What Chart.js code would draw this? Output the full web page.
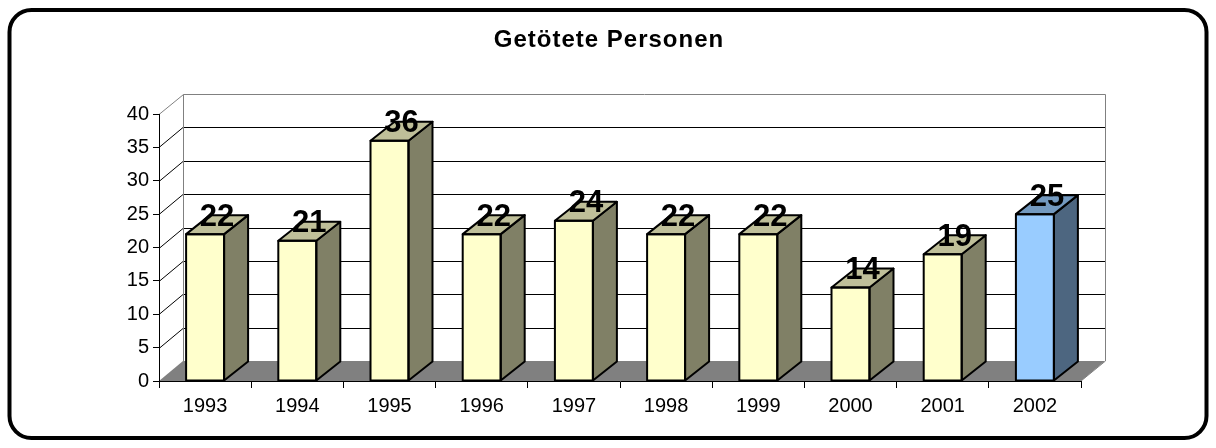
<!DOCTYPE html>
<html>
<head>
<meta charset="utf-8">
<script src="https://cdn.jsdelivr.net/npm/chart.js@4.4.1/dist/chart.umd.min.js"></script>
<style>
  html, body { margin: 0; padding: 0; background: #ffffff; }
  #wrap { width: 1216px; height: 448px; }
</style>
</head>
<body>
<div id="wrap"><canvas id="c" width="1216" height="448"></canvas></div>
<script>
// ---- data ----
const chartTitle = 'Getötete Personen';
const years = ['1993', '1994', '1995', '1996', '1997', '1998', '1999', '2000', '2001', '2002'];
const killed = [22, 21, 36, 22, 24, 22, 22, 14, 19, 25];
const yMin = 0;
const yMax = 40;
const yStep = 5;
const highlightYear = '2002';

// ---- styling ----
const FONT = "'Liberation Sans', Arial, sans-serif";
const DEPTH_X = 24, DEPTH_Y = 20;
const BAR_DX = 24, BAR_DY = 19;
const baseColor = '#FFFFCC';
const highlightColor = '#99CCFF';

function shade(hex, f) {
  const n = parseInt(hex.slice(1), 16);
  const r = Math.round(((n >> 16) & 255) * f);
  const g = Math.round(((n >> 8) & 255) * f);
  const b = Math.round((n & 255) * f);
  return `rgb(${r},${g},${b})`;
}
const frontColors = years.map(y => y === highlightYear ? highlightColor : baseColor);

const threeD = {
  id: 'threeD',
  beforeDraw(chart) {
    const ctx = chart.ctx;
    const ys = chart.scales.y, xs = chart.scales.x;
    const L = xs.left, R = xs.right;
    const y0 = ys.getPixelForValue(yMin), yTop = ys.getPixelForValue(yMax);
    ctx.save();
    // floor
    ctx.fillStyle = '#808080';
    ctx.beginPath();
    ctx.moveTo(L, y0);
    ctx.lineTo(R, y0);
    ctx.lineTo(R + DEPTH_X, y0 - DEPTH_Y);
    ctx.lineTo(L + DEPTH_X, y0 - DEPTH_Y);
    ctx.closePath();
    ctx.fill();
    // gridlines on back wall and left wall
    ctx.lineWidth = 1;
    for (let v = yMin + yStep; v < yMax; v += yStep) {
      const py = Math.round(ys.getPixelForValue(v)) + 0.5;
      ctx.strokeStyle = '#000000';
      ctx.beginPath();
      ctx.moveTo(L, py);
      ctx.lineTo(L + DEPTH_X, py - DEPTH_Y);
      ctx.lineTo(R + DEPTH_X, py - DEPTH_Y);
      ctx.stroke();
    }
    // wall outline (gray)
    const t = Math.round(yTop) + 0.5;
    ctx.strokeStyle = '#808080';
    ctx.beginPath();
    ctx.moveTo(L, t);
    ctx.lineTo(L + DEPTH_X + 0.5, t - DEPTH_Y);
    ctx.lineTo(R + DEPTH_X + 0.5, t - DEPTH_Y);
    ctx.lineTo(R + DEPTH_X + 0.5, y0 - DEPTH_Y);
    ctx.lineTo(R, y0);
    ctx.moveTo(L + DEPTH_X + 0.5, t - DEPTH_Y);
    ctx.lineTo(L + DEPTH_X + 0.5, y0 - DEPTH_Y);
    ctx.stroke();
    ctx.restore();
  },
  afterDatasetsDraw(chart) {
    const ctx = chart.ctx;
    const meta = chart.getDatasetMeta(0);
    ctx.save();
    ctx.lineWidth = 2;
    ctx.strokeStyle = '#000000';
    ctx.lineJoin = 'round';
    meta.data.forEach((bar, i) => {
      const p = bar.getProps(['x', 'y', 'base', 'width'], true);
      const x0 = p.x - p.width / 2, x1 = p.x + p.width / 2;
      const top = p.y, bottom = p.base;
      const col = frontColors[i];
      // side face
      ctx.fillStyle = shade(col, 0.5);
      ctx.beginPath();
      ctx.moveTo(x1, bottom);
      ctx.lineTo(x1, top);
      ctx.lineTo(x1 + BAR_DX, top - BAR_DY);
      ctx.lineTo(x1 + BAR_DX, bottom - BAR_DY);
      ctx.closePath();
      ctx.fill();
      ctx.stroke();
      // top face
      ctx.fillStyle = shade(col, 0.75);
      ctx.beginPath();
      ctx.moveTo(x0, top);
      ctx.lineTo(x1, top);
      ctx.lineTo(x1 + BAR_DX, top - BAR_DY);
      ctx.lineTo(x0 + BAR_DX, top - BAR_DY);
      ctx.closePath();
      ctx.fill();
      ctx.stroke();
      // front outline
      ctx.strokeRect(x0, top, x1 - x0, bottom - top);
    });
    // data labels
    ctx.fillStyle = '#000000';
    ctx.font = `bold 31px ${FONT}`;
    ctx.textAlign = 'center';
    ctx.textBaseline = 'middle';
    meta.data.forEach((bar, i) => {
      const p = bar.getProps(['x', 'y'], true);
      ctx.fillText(String(killed[i]), p.x + BAR_DX / 2, p.y - 17);
    });
    ctx.restore();
  },
  afterDraw(chart) {
    const ctx = chart.ctx;
    ctx.save();
    // title
    ctx.fillStyle = '#000000';
    ctx.font = `bold 24px ${FONT}`;
    ctx.textAlign = 'center';
    ctx.textBaseline = 'middle';
    try { ctx.letterSpacing = '1px'; } catch (e) {}
    ctx.fillText(chartTitle, 609, 40);
    try { ctx.letterSpacing = '0px'; } catch (e) {}
    // outer rounded frame
    ctx.lineWidth = 4;
    ctx.strokeStyle = '#000000';
    ctx.beginPath();
    ctx.roundRect(9.5, 10, 1197, 428, 22);
    ctx.stroke();
    ctx.restore();
  }
};

new Chart(document.getElementById('c'), {
  type: 'bar',
  data: {
    labels: years,
    datasets: [{
      data: killed,
      backgroundColor: frontColors,
      borderWidth: 0,
      categoryPercentage: 1,
      barPercentage: 0.412
    }]
  },
  options: {
    responsive: false,
    animation: false,
    devicePixelRatio: 1,
    layout: { padding: { left: 0, right: 135, top: 114, bottom: 27 } },
    plugins: {
      legend: { display: false },
      title: { display: false },
      tooltip: { enabled: false }
    },
    scales: {
      y: {
        min: yMin,
        max: yMax,
        ticks: { stepSize: yStep, color: '#000000', padding: 4, font: { family: FONT, size: 20 } },
        grid: { drawOnChartArea: false, drawTicks: true, tickLength: 6, color: '#000000' },
        border: { display: true, color: '#000000', width: 1 },
        afterFit(scale) { scale.width = 159; }
      },
      x: {
        ticks: { color: '#000000', padding: 6, font: { family: FONT, size: 20 } },
        grid: { drawOnChartArea: false, drawTicks: true, tickLength: 7, color: '#000000', offset: true },
        border: { display: true, color: '#000000', width: 1 },
        afterFit(scale) { scale.height = 40; }
      }
    }
  },
  plugins: [threeD]
});
</script>
</body>
</html>
